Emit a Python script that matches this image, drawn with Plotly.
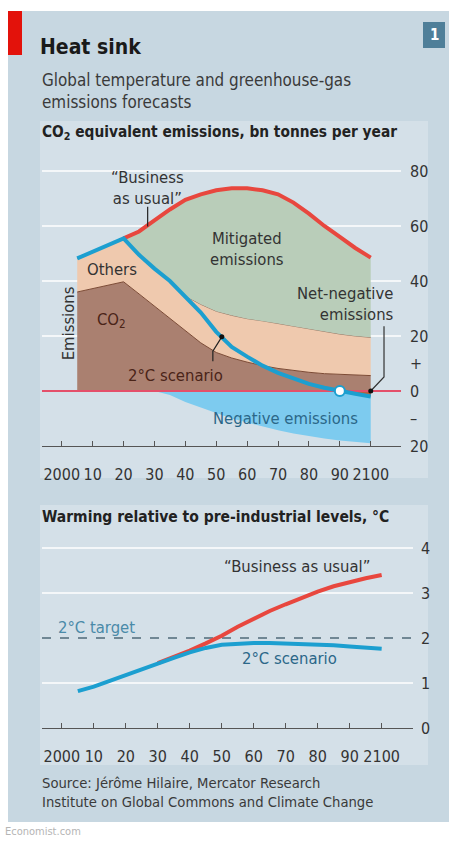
import plotly.graph_objects as go

# ---------------- data ----------------
years = [2005, 2010, 2015, 2020, 2025, 2030, 2035, 2040, 2045, 2050,
         2055, 2060, 2065, 2070, 2075, 2080, 2085, 2090, 2095, 2100]
co2 = [36.0, 37.2, 38.4, 39.7, 35.3, 30.8, 26.4, 22.0, 17.5, 14.0,
       12.0, 10.5, 9.2, 8.2, 7.4, 6.8, 6.3, 6.0, 5.8, 5.6]
gross_total = [48.2, 50.6, 53.0, 55.5, 49.5, 44.5, 40.0, 34.5, 31.5, 29.0,
               27.5, 26.3, 25.5, 24.5, 23.5, 22.5, 21.5, 20.7, 20.0, 19.5]
scenario_2c = [48.2, 50.6, 53.0, 55.5, 49.5, 44.5, 40.0, 34.5, 28.5, 21.5,
               16.0, 12.5, 9.2, 6.6, 4.5, 2.6, 1.2, 0.0, -1.0, -2.0]
bau_years = [2020, 2025, 2030, 2035, 2040, 2045, 2050, 2055, 2060, 2065,
             2070, 2075, 2080, 2085, 2090, 2095, 2100]
bau = [55.5, 58.0, 62.0, 66.0, 69.5, 71.5, 73.0, 73.7, 73.7, 73.0,
       71.5, 68.5, 64.5, 60.0, 56.0, 52.0, 48.5]
neg_years = [2030, 2035, 2040, 2045, 2050, 2055, 2060, 2065, 2070, 2075,
             2080, 2085, 2090, 2095, 2100]
negative = [0.0, -1.5, -4.0, -6.0, -8.0, -10.0, -11.5, -13.0, -14.3, -15.5,
            -16.5, -17.3, -18.0, -18.6, -19.0]

temp_years = [2005, 2010, 2015, 2020, 2025, 2030, 2035, 2040, 2045, 2050,
              2055, 2060, 2065, 2070, 2075, 2080, 2085, 2090, 2095, 2100]
temp_2c = [0.82, 0.92, 1.05, 1.18, 1.32, 1.44, 1.56, 1.68, 1.78, 1.85,
           1.88, 1.89, 1.89, 1.88, 1.87, 1.86, 1.84, 1.81, 1.78, 1.76]
temp_bau_years = [2030, 2035, 2040, 2045, 2050, 2055, 2060, 2065,
                  2070, 2075, 2080, 2085, 2090, 2095, 2100]
temp_bau = [1.44, 1.57, 1.72, 1.88, 2.05, 2.25, 2.43, 2.6,
            2.75, 2.9, 3.03, 3.15, 3.25, 3.33, 3.4]

x_ticks = [2000, 2010, 2020, 2030, 2040, 2050, 2060, 2070, 2080, 2090, 2100]
x_ticktext = ["2000", "10", "20", "30", "40", "50", "60", "70", "80", "90", "2100"]
y1_ticks = [-20, -10, 0, 10, 20, 40, 60, 80]
y1_ticktext = ["20", "–", "0", "+", "20", "40", "60", "80"]
y1_grid = [20, 40, 60, 80]
y2_ticks = [0, 1, 2, 3, 4]
y2_grid = [1, 3, 4]
target = 2

# ---------------- style ----------------
FONT = "DejaVu Sans Condensed, Liberation Sans Narrow, Roboto, sans-serif"
RED = "#e8473e"
BLUE = "#1c9fd0"
BROWN = "#aa8070"
PEACH = "#efc9ae"
GREEN = "#b9cdb9"
NEGBLUE = "#7dcbef"
TXT = "#333333"
ANN = 16.5
W, H = 456, 851
REF_H = 841


def px(x):
    return x / W


def py(y):
    return 1 - y / REF_H


fig = go.Figure()
common = dict(showlegend=False, hoverinfo="skip")

# negative emissions
fig.add_trace(go.Scatter(x=neg_years, y=[0] * len(neg_years), mode="lines",
                         line=dict(width=0), xaxis="x", yaxis="y", **common))
fig.add_trace(go.Scatter(x=neg_years, y=negative, mode="lines", fill="tonexty",
                         fillcolor=NEGBLUE, line=dict(width=0), xaxis="x", yaxis="y", **common))
# CO2
fig.add_trace(go.Scatter(x=years, y=co2, mode="lines", fill="tozeroy", fillcolor=BROWN,
                         line=dict(color="#7d4b35", width=1), xaxis="x", yaxis="y", **common))
# Others
fig.add_trace(go.Scatter(x=years, y=gross_total, mode="lines", fill="tonexty", fillcolor=PEACH,
                         line=dict(color="#9a7a66", width=1), xaxis="x", yaxis="y", **common))
# Mitigated
gi = years.index(bau_years[0])
fig.add_trace(go.Scatter(x=years[gi:], y=gross_total[gi:], mode="lines",
                         line=dict(width=0), xaxis="x", yaxis="y", **common))
fig.add_trace(go.Scatter(x=bau_years, y=bau, mode="lines", fill="tonexty", fillcolor=GREEN,
                         line=dict(color=RED, width=4), xaxis="x", yaxis="y", **common))
# net-negative sliver
ni = scenario_2c.index(0.0)
fig.add_trace(go.Scatter(x=years[ni:], y=[0] * len(years[ni:]), mode="lines",
                         line=dict(width=0), xaxis="x", yaxis="y", **common))
fig.add_trace(go.Scatter(x=years[ni:], y=scenario_2c[ni:], mode="lines", fill="tonexty",
                         fillcolor="#b8603e", line=dict(width=0), xaxis="x", yaxis="y", **common))
# zero line
fig.add_trace(go.Scatter(x=[1993.6, 2109.8], y=[0, 0], mode="lines",
                         line=dict(color="#e4506a", width=2), xaxis="x", yaxis="y", **common))
# 2C scenario line
fig.add_trace(go.Scatter(x=years, y=scenario_2c, mode="lines",
                         line=dict(color=BLUE, width=4), xaxis="x", yaxis="y", **common))
# leader lines (top)
fig.add_trace(go.Scatter(x=[2027.8, 2027.8], y=[67.0, 59.8], mode="lines",
                         line=dict(color="#222", width=1.2), xaxis="x", yaxis="y", **common))
fig.add_trace(go.Scatter(x=[2048.9, 2048.9, 2051.8], y=[10.8, 14.5, 19.7], mode="lines",
                         line=dict(color="#222", width=1.2), xaxis="x", yaxis="y", **common))
fig.add_trace(go.Scatter(x=[2104.3, 2104.3, 2100], y=[23.5, 5.1, 0], mode="lines",
                         line=dict(color="#333", width=1.2), xaxis="x", yaxis="y", **common))
fig.add_trace(go.Scatter(x=[2051.8, 2100], y=[19.7, 0], mode="markers",
                         marker=dict(color="#111", size=5), xaxis="x", yaxis="y", **common))
fig.add_trace(go.Scatter(x=[2090], y=[0], mode="markers",
                         marker=dict(color="white", size=10, line=dict(color=BLUE, width=2)),
                         xaxis="x", yaxis="y", **common))

# bottom chart
fig.add_trace(go.Scatter(x=[1993.8, 2109.8], y=[target, target], mode="lines",
                         line=dict(color="#4f6a78", width=1.3, dash="dash"),
                         xaxis="x2", yaxis="y2", **common))
fig.add_trace(go.Scatter(x=temp_bau_years, y=temp_bau, mode="lines",
                         line=dict(color=RED, width=4), xaxis="x2", yaxis="y2", **common))
fig.add_trace(go.Scatter(x=temp_years, y=temp_2c, mode="lines",
                         line=dict(color=BLUE, width=4), xaxis="x2", yaxis="y2", **common))

shapes = []
# outer panel
shapes.append(dict(type="rect", xref="paper", yref="paper", x0=px(8), x1=px(449),
                   y0=py(822), y1=py(11), fillcolor="#c7d7e1", line=dict(width=0), layer="below"))
# inner panels
shapes.append(dict(type="rect", xref="paper", yref="paper", x0=px(40), x1=px(428),
                   y0=py(478), y1=py(121), fillcolor="#d4e0e8", line=dict(width=0), layer="below"))
shapes.append(dict(type="rect", xref="paper", yref="paper", x0=px(40), x1=px(428),
                   y0=py(765), y1=py(505), fillcolor="#d4e0e8", line=dict(width=0), layer="below"))
# red bar
shapes.append(dict(type="rect", xref="paper", yref="paper", x0=px(8), x1=px(22),
                   y0=py(55), y1=py(11), fillcolor="#e3120b", line=dict(width=0)))
# number box
shapes.append(dict(type="rect", xref="paper", yref="paper", x0=px(423), x1=px(445),
                   y0=py(48), y1=py(22), fillcolor="#4f7f99", line=dict(width=0)))
# gridlines
for g in y1_grid:
    shapes.append(dict(type="line", xref="x domain", yref="y", x0=0, x1=1, y0=g, y1=g,
                       line=dict(color="white", width=1.5), layer="below"))
for g in y2_grid:
    shapes.append(dict(type="line", xref="x2 domain", yref="y2", x0=0, x1=1, y0=g, y1=g,
                       line=dict(color="white", width=1.5), layer="below"))

ann = []


def text(x, y, t, size=ANN, color=TXT, xanchor="center", xref="paper", yref="paper", **kw):
    ann.append(dict(x=x, y=y, text=t, xref=xref, yref=yref, showarrow=False,
                    xanchor=xanchor, yanchor="middle",
                    font=dict(size=size, color=color, family=FONT), **kw))


text(px(38), py(47), "<b>Heat sink</b>", size=21, color="#1a1a1a", xanchor="left")
text(px(40), py(91), "Global temperature and greenhouse-gas<br>emissions forecasts",
     size=16.9, color="#3a3a3a", xanchor="left", align="left")
text(px(40), py(133), "<b>CO<sub>2</sub> equivalent emissions, bn tonnes per year</b>",
     size=15.3, color="#222", xanchor="left")
text(px(40), py(517), "<b>Warming relative to pre-industrial levels, °C</b>",
     size=15.5, color="#222", xanchor="left")
text(px(40), py(792), "Source: Jérôme Hilaire, Mercator Research<br>Institute on Global Commons and Climate Change",
     size=14.7, color="#3a3a3a", xanchor="left", align="left")
text(px(3), py(831), "Economist.com", size=11, color="#b5b5b5", xanchor="left")
text(px(434), py(35), "<b>1</b>", size=15, color="white")

# top chart labels (data coords)
text(2027.8, 73.8, "“Business<br>as usual”", xref="x", yref="y", color="#333")
text(2059.9, 51.6, "Mitigated<br>emissions", xref="x", yref="y", color="#333")
text(2016.2, 44, "Others", xref="x", yref="y", color="#333")
text(2016.2, 25.8, "CO<sub>2</sub>", xref="x", yref="y", color="#4a2418")
text(2002.1, 24.7, "Emissions", xref="x", yref="y", color="#333", textangle=-90)
text(2036.7, 5.8, "2°C scenario", xref="x", yref="y", color="#4a2418")
text(2108.3, 31.6, "Net-negative<br>emissions", xref="x", yref="y", color="#333",
     xanchor="right", align="right")
text(2072.3, -9.9, "Negative emissions", xref="x", yref="y", color="#2b6788")
# bottom chart labels
text(2073.4, 3.58, "“Business as usual”", xref="x2", yref="y2", color="#333")
text(2071.3, 1.55, "2°C scenario", xref="x2", yref="y2", color="#2b6788")
text(1998.2, 2.24, "2°C target", xref="x2", yref="y2", color="#4a8aa8", xanchor="left")

xaxis_common = dict(tickmode="array", tickvals=x_ticks, ticktext=x_ticktext, tickangle=0,
                    showgrid=False, zeroline=False, showline=True, linecolor="#555",
                    linewidth=1, ticks="inside", ticklen=5, tickcolor="#555",
                    tickfont=dict(size=16, color=TXT, family=FONT), ticklabelstandoff=14,
                    fixedrange=True)

fig.update_layout(
    width=W, height=H, margin=dict(l=0, r=0, t=0, b=0),
    paper_bgcolor="white", plot_bgcolor="rgba(0,0,0,0)",
    font=dict(family=FONT, color=TXT),
    xaxis=dict(domain=[px(42), px(401)], range=[1993.6, 2109.8], anchor="y", **xaxis_common),
    yaxis=dict(domain=[py(446), py(152)], range=[-20, 86.9], anchor="x", side="right",
               tickmode="array", tickvals=y1_ticks, ticktext=y1_ticktext,
               showgrid=False, zeroline=False, showline=False, ticks="",
               tickfont=dict(size=16, color=TXT, family=FONT), ticklabelstandoff=8,
               fixedrange=True),
    xaxis2=dict(domain=[px(42), px(413)], range=[1993.8, 2109.8], anchor="y2", **xaxis_common),
    yaxis2=dict(domain=[py(728), py(535)], range=[0, 4.29], anchor="x2", side="right",
                tickmode="array", tickvals=y2_ticks,
                showgrid=False, zeroline=False, showline=False, ticks="",
                tickfont=dict(size=16, color=TXT, family=FONT), ticklabelstandoff=7,
                fixedrange=True),
    shapes=shapes, annotations=ann,
)

post = ("document.documentElement.style.margin='0';"
        "document.body.style.margin='0';document.body.style.overflow='hidden';"
        "var d=document.getElementById('chart');"
        "d.style.position='fixed';d.style.top='0px';d.style.left='0px';")
fig.write_html("out.html", div_id="chart", config={"displayModeBar": False},
               post_script=post)
